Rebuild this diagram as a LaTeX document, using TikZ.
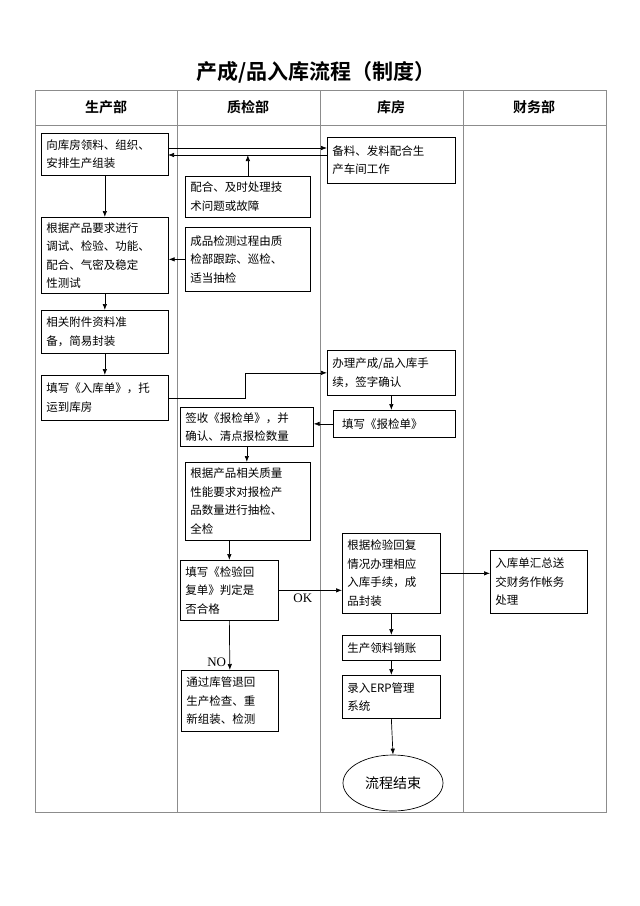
\documentclass[tikz,border=0pt]{standalone}
\usepackage{fontspec}
\setmainfont{Liberation Serif}
\newfontfamily\cjk{Noto Sans CJK SC}[BoldFont={Noto Sans CJK SC Bold}]
\usetikzlibrary{arrows.meta,positioning,shapes.geometric}

\tikzset{
  box/.style={draw, anchor=north west, align=left, inner sep=5pt,
              font=\cjk\fontsize{11.5}{18.5}\selectfont},
  arr/.style={-{Latex[length=6pt,width=4.5pt]}},
  lane/.style={draw=black!45, line width=0.8pt}
}

\begin{document}
\begin{tikzpicture}[x=1pt, y=-1pt, line width=0.7pt]
  \useasboundingbox (0,0) rectangle (640,906);

  % title and lanes
  \node[font=\cjk\bfseries\fontsize{21}{24}\selectfont] (title) at (316,72) {产成/品入库流程（制度）};
  \draw[lane] (35,90) rectangle (606,812);
  \draw[lane] (35,125) -- (606,125);
  \foreach \x in {177,320,463} \draw[lane] (\x,90) -- (\x,812);
  \node[font=\cjk\bfseries\fontsize{14}{16}\selectfont] (h1) at (106,107) {生产部};
  \node[font=\cjk\bfseries\fontsize{14}{16}\selectfont] (h2) at (248,107) {质检部};
  \node[font=\cjk\bfseries\fontsize{14}{16}\selectfont] (h3) at (391,107) {库房};
  \node[font=\cjk\bfseries\fontsize{14}{16}\selectfont] (h4) at (534,107) {财务部};

  % boxes
  \node[box, text width=117, minimum height=42] (A) at (41,133) {向库房领料、组织、\\安排生产组装};
  \node[box, text width=118, minimum height=46] (B) at (327,137) {备料、发料配合生\\产车间工作};
  \node[box, text width=115, minimum height=41] (C) at (185,176) {配合、及时处理技\\术问题或故障};
  \node[box, text width=117, minimum height=74] (D) at (41,217) {根据产品要求进行\\调试、检验、功能、\\配合、气密及稳定\\性测试};
  \node[box, text width=115, minimum height=64] (E) at (185,227) {成品检测过程由质\\检部跟踪、巡检、\\适当抽检};
  \node[box, text width=117, minimum height=43] (F) at (41,310) {相关附件资料准\\备，简易封装};
  \node[box, text width=117, minimum height=45] (G) at (41,375) {填写《入库单》，托\\运到库房};
  \node[box, text width=118, minimum height=45] (H) at (327,350) {办理产成/品入库手\\续，签字确认};
  \node[box, text width=112, minimum height=27] (I) at (333,410) {\ 填写《报检单》};
  \node[box, text width=123, minimum height=38] (J) at (180,407) {签收《报检单》，并\\确认、清点报检数量};
  \node[box, text width=115, minimum height=78] (K) at (185,462) {根据产品相关质量\\性能要求对报检产\\品数量进行抽检、\\全检};
  \node[box, text width=88, minimum height=60] (L) at (180,560) {填写《检验回\\复单》判定是\\否合格};
  \node[box, text width=88, minimum height=80] (M) at (342,533) {根据检验回复\\情况办理相应\\入库手续，成\\品封装};
  \node[box, text width=87, minimum height=63] (N) at (490,550) {入库单汇总送\\交财务作帐务\\处理};
  \node[box, text width=88, minimum height=25] (O) at (342,635) {生产领料销账};
  \node[box, text width=88, minimum height=43] (P) at (342,675) {录入ERP管理\\系统};
  \node[box, text width=87, minimum height=61] (R) at (181,670) {通过库管退回\\生产检查、重\\新组装、检测};
  \node[draw, ellipse, minimum width=100, minimum height=56,
        font=\cjk\fontsize{14}{16}\selectfont] (Q) at (393,783) {流程结束};

  % connectors
  \coordinate (a1) at (168,148);
  \coordinate (a2) at (168,155);
  \draw[arr] (a1) -- (a1 -| B.west);
  \draw[arr] (a2 -| B.west) -- (a2);
  \draw[arr] (C.north) -- (C.north |- a2);
  \draw[arr] (A.south) -- (A.south |- D.north);
  \draw[arr] (E.west) -- (E.west -| D.east);
  \draw[arr] (D.south) -- (D.south |- F.north);
  \draw[arr] (F.south) -- (F.south |- G.north);
  \draw[arr] (G.east) -- ++(77,0) |- (H.west);
  \draw[arr] (H.south) -- (H.south |- I.north);
  \draw[arr] (I.west) -- (I.west -| J.east);
  \draw[arr] (J.south) -- (J.south |- K.north);
  \draw[arr] (K.south -| L.north) -- (L.north);
  \draw[arr] (L.east) -- node[below, pos=0.38, font=\fontsize{13}{15}\selectfont] {OK} (L.east -| M.west);
  \draw[arr] (M.east) -- (M.east -| N.west);
  \draw[arr] (M.south) -- (O.north);
  \draw[arr] (O.south) -- (P.north);
  \draw[arr] (P.south) -- (Q.north);
  \draw[arr] (L.south) -- node[left, pos=0.85, font=\fontsize{13}{15}\selectfont] {NO} (R.north);
\end{tikzpicture}
\end{document}
